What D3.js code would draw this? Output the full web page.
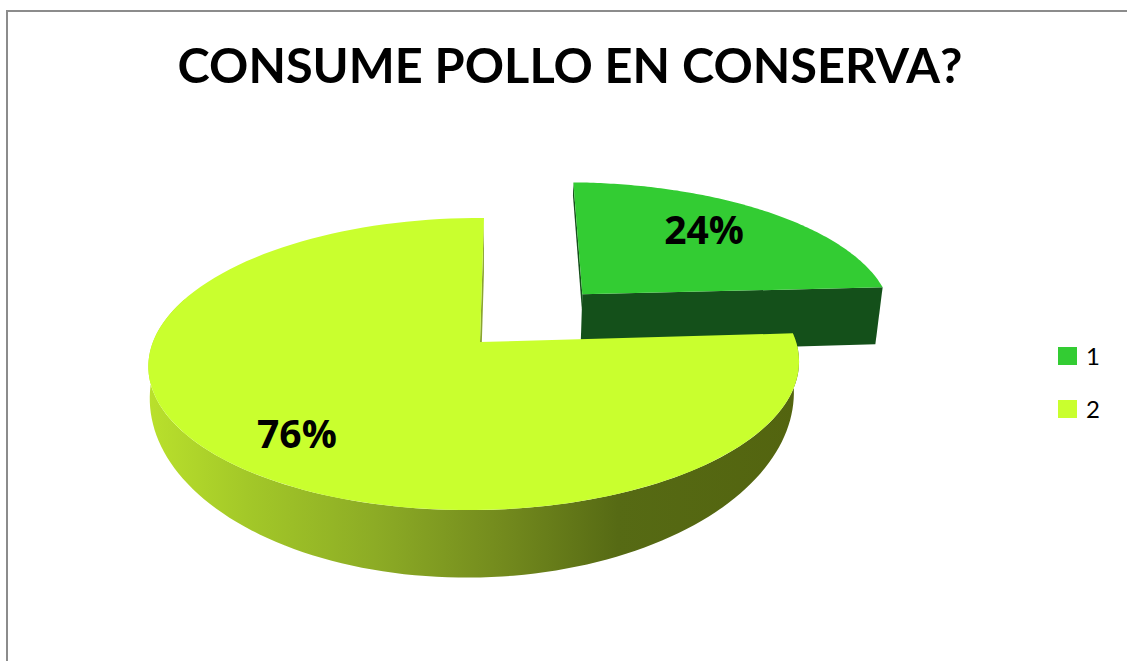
<!DOCTYPE html>
<html>
<head>
<meta charset="utf-8">
<script src="https://cdn.jsdelivr.net/npm/d3@7/dist/d3.min.js"></script>
<style>
html,body{margin:0;padding:0;background:#fff;overflow:hidden}
svg{display:block}
text{font-family:"Open Sans","Noto Sans",sans-serif;fill:#000}
</style>
</head>
<body>
<svg id="chart" width="1127" height="661"></svg>
<script>
// Chart content
const chartTitle = "CONSUME POLLO EN CONSERVA?";
const categories = ["1", "2"];
const shares = [24, 76];
const topColors = ["#33cc33", "#c9ff2e"];
const wallColor = "#14501a";

const svg = d3.select("#chart");
const W = 1127, H = 661;

// Perspective view of the pie plate: a point in plate units maps to the screen.
// "sink" runs from 0 (top surface) to 1 (bottom surface of the plate).
const view = {cx: 480, cy: 342, a: 321.5, b: 142.7, k: 0.151, m: 0.017, skew: 4.6, depthW: 0.02, depth: 62};
// The curved wall of the large slice bulges outward below the rim
const bulge = {cx: 478, cy: 368, b: 180, w: 0.01};
const explodeBy = [0.485, 0];
// Sideways stretch of each slice's plate
const stretchX = [1.024, 1];

function project(X, Y, sink = 0) {
  const w = 1 + view.k * Y + view.m * X + view.depthW * sink;
  return [
    view.cx + (view.a * X + view.skew * Y) / w,
    view.cy + (-view.b * Y + view.depth * sink) / w
  ];
}
function projectBulged(X, Y) {
  const w = 1 + view.k * Y + view.m * X + bulge.w;
  return [bulge.cx + (view.a * X + view.skew * Y) / w, bulge.cy - bulge.b * Y / w];
}
const offsetOf = (d, i) => {
  const mid = (d.startAngle + d.endAngle) / 2;
  return [explodeBy[i] * Math.sin(mid), explodeBy[i] * Math.cos(mid)];
};
const platePoint = (i, angle, r, off, sink) =>
  project(off[0] + stretchX[i] * r * Math.sin(angle), off[1] + r * Math.cos(angle), sink);
const angleSteps = (a0, a1) => d3.range(0, 121).map(n => a0 + (a1 - a0) * n / 120);

const pie = d3.pie().sort(null).value(d => d)(shares);
const line = d3.line();
const color = d3.scaleOrdinal(categories, topColors);

// Shading across the curved wall of the larger slice
const defs = svg.append("defs");
const grad = defs.append("linearGradient").attr("id", "wallShade")
  .attr("gradientUnits", "userSpaceOnUse")
  .attr("x1", 150).attr("x2", 800).attr("y1", 0).attr("y2", 0);
[[0, "#b9e02c"], [0.15, "#a3c828"], [0.35, "#8cab25"], [0.55, "#72891d"], [0.72, "#566a14"], [1, "#53640f"]]
  .forEach(s => grad.append("stop").attr("offset", s[0]).attr("stop-color", s[1]));

// Frame: only the top and left edges fall inside the page
svg.append("path")
  .attr("d", line([[7, H], [7, 11], [W, 11]]))
  .attr("fill", "none").attr("stroke", "#8c8c8c").attr("stroke-width", 2);

svg.append("text")
  .attr("x", 570).attr("y", 83)
  .attr("text-anchor", "middle")
  .attr("font-size", 48.7).attr("font-weight", 700)
  .style("font-family", "Lato, 'Open Sans', sans-serif")
  .text(chartTitle);

// Detached slice: cut faces, then the top
{
  const d = pie[0], off = offsetOf(d, 0), g = svg.append("g");
  const face = (angle, sink) => [
    platePoint(0, angle, 0, off, 0), platePoint(0, angle, 1, off, 0),
    platePoint(0, angle, 1, off, sink), platePoint(0, angle, 0, off, sink)
  ];
  g.append("path").attr("d", line(face(d.startAngle, 0.25)) + "Z").attr("fill", wallColor);
  g.append("path").attr("d", line(face(d.endAngle, 1)) + "Z").attr("fill", wallColor);
  g.append("path")
    .attr("d", line([platePoint(0, 0, 0, off, 0), ...angleSteps(d.startAngle, d.endAngle).map(a => platePoint(0, a, 1, off, 0))]) + "Z")
    .attr("fill", color(categories[0]));
}

// Larger slice: curved wall, cut face, then the top
{
  const d = pie[1], off = offsetOf(d, 1), g = svg.append("g");
  const steps = angleSteps(d.startAngle, Math.PI * 1.6);
  const upper = steps.map(a => platePoint(1, a, 1, off, 0));
  const lower = steps.map(a => projectBulged(off[0] + Math.sin(a), off[1] + Math.cos(a)));
  g.append("path").attr("d", line([...upper, ...lower.reverse()]) + "Z").attr("fill", "url(#wallShade)");
  g.append("path")
    .attr("d", line([
      platePoint(1, 0, 0, off, 0), platePoint(1, 0, 1, off, 0),
      platePoint(1, 0, 1, off, 1), platePoint(1, 0, 0, off, 1)
    ]) + "Z")
    .attr("fill", "#8aa530");
  g.append("path")
    .attr("d", line([platePoint(1, 0, 0, off, 0), ...angleSteps(d.startAngle, d.endAngle).map(a => platePoint(1, a, 1, off, 0))]) + "Z")
    .attr("fill", color(categories[1]));
}

// Percentage labels sit along each slice's bisector
const labelRadius = [0.64, 0.745];
const labelDrop = [5, 21];
pie.forEach((d, i) => {
  const mid = (d.startAngle + d.endAngle) / 2;
  const p = platePoint(i, mid, labelRadius[i], offsetOf(d, i), 0);
  svg.append("text")
    .attr("x", p[0]).attr("y", p[1] + labelDrop[i])
    .attr("text-anchor", "middle")
    .attr("font-size", 39).attr("font-weight", 700)
    .text(d.data + "%");
});

// Legend
const legendY = d3.scalePoint(categories, [356, 409]);
const legend = svg.append("g").selectAll("g").data(categories).join("g")
  .attr("transform", c => `translate(0,${legendY(c)})`);
legend.append("rect")
  .attr("x", 1058).attr("y", -9).attr("width", 19).attr("height", 18)
  .attr("fill", c => color(c));
legend.append("text")
  .attr("x", 1086).attr("y", 9)
  .attr("font-size", 24)
  .style("font-family", "Lato, 'Open Sans', sans-serif")
  .text(c => c);
</script>
</body>
</html>
